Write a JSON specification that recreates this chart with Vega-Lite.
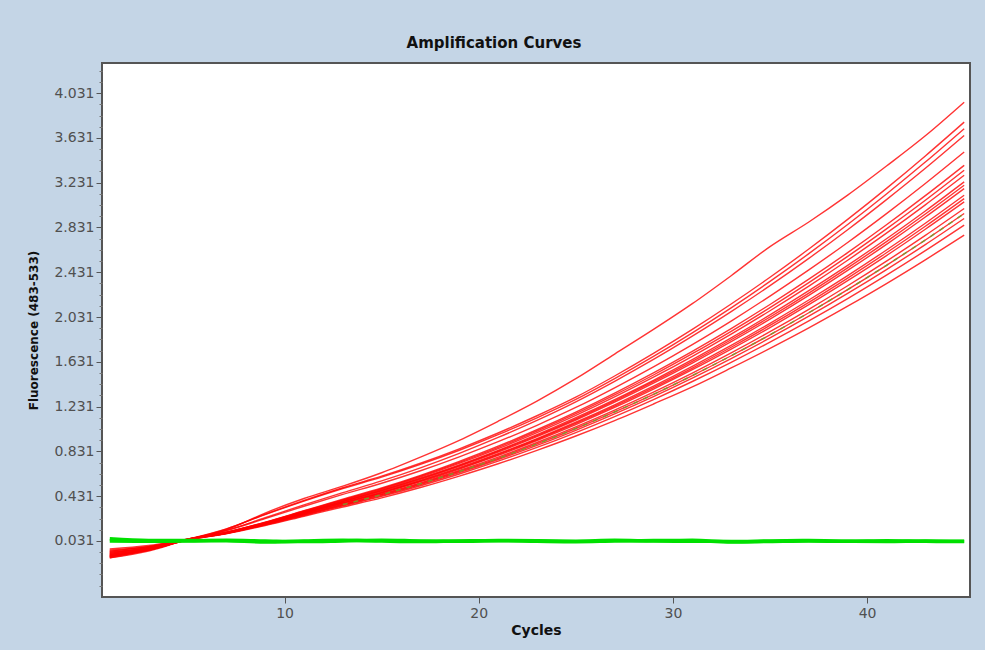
{
  "$schema": "https://vega.github.io/schema/vega-lite/v6.json",
  "width": 868,
  "height": 534,
  "autosize": "none",
  "padding": {"left": 102, "top": 63, "right": 15, "bottom": 53},
  "background": "#c4d5e6",
  "view": {"fill": "white", "stroke": "#555555", "strokeWidth": 2},
  "title": {"text": "Amplification Curves", "fontSize": 15, "fontWeight": "bold", "font": "DejaVu Sans", "color": "#111111", "offset": 12, "dx": -42},
  "datasets": {
    "red": [
      {"id":"R1","x":1,"y":-0.05},{"id":"R1","x":3,"y":-0.02},{"id":"R1","x":5,"y":0.045},{"id":"R1","x":7,"y":0.13},{"id":"R1","x":9,"y":0.28},{"id":"R1","x":11,"y":0.41},{"id":"R1","x":13,"y":0.52},{"id":"R1","x":15,"y":0.64},{"id":"R1","x":17,"y":0.78},{"id":"R1","x":19,"y":0.93},{"id":"R1","x":21,"y":1.10},{"id":"R1","x":23,"y":1.28},{"id":"R1","x":25,"y":1.48},{"id":"R1","x":27,"y":1.70},{"id":"R1","x":29,"y":1.92},{"id":"R1","x":31,"y":2.15},{"id":"R1","x":33,"y":2.40},{"id":"R1","x":35,"y":2.66},{"id":"R1","x":37,"y":2.88},{"id":"R1","x":39,"y":3.12},{"id":"R1","x":41,"y":3.38},{"id":"R1","x":43,"y":3.65},{"id":"R1","x":45,"y":3.95},
      {"id":"R2","x":1,"y":-0.08},{"id":"R2","x":3,"y":-0.03},{"id":"R2","x":5,"y":0.045},{"id":"R2","x":7,"y":0.138},{"id":"R2","x":9,"y":0.269},{"id":"R2","x":11,"y":0.392},{"id":"R2","x":13,"y":0.506},{"id":"R2","x":15,"y":0.609},{"id":"R2","x":17,"y":0.725},{"id":"R2","x":19,"y":0.854},{"id":"R2","x":21,"y":0.995},{"id":"R2","x":23,"y":1.149},{"id":"R2","x":25,"y":1.315},{"id":"R2","x":27,"y":1.504},{"id":"R2","x":29,"y":1.706},{"id":"R2","x":31,"y":1.920},{"id":"R2","x":33,"y":2.147},{"id":"R2","x":35,"y":2.386},{"id":"R2","x":37,"y":2.638},{"id":"R2","x":39,"y":2.903},{"id":"R2","x":41,"y":3.180},{"id":"R2","x":43,"y":3.470},{"id":"R2","x":45,"y":3.772},
      {"id":"R3","x":1,"y":-0.10},{"id":"R3","x":3,"y":-0.04},{"id":"R3","x":5,"y":0.042},{"id":"R3","x":7,"y":0.137},{"id":"R3","x":9,"y":0.266},{"id":"R3","x":11,"y":0.387},{"id":"R3","x":13,"y":0.499},{"id":"R3","x":15,"y":0.601},{"id":"R3","x":17,"y":0.715},{"id":"R3","x":19,"y":0.841},{"id":"R3","x":21,"y":0.980},{"id":"R3","x":23,"y":1.131},{"id":"R3","x":25,"y":1.295},{"id":"R3","x":27,"y":1.481},{"id":"R3","x":29,"y":1.679},{"id":"R3","x":31,"y":1.890},{"id":"R3","x":33,"y":2.113},{"id":"R3","x":35,"y":2.349},{"id":"R3","x":37,"y":2.597},{"id":"R3","x":39,"y":2.857},{"id":"R3","x":41,"y":3.130},{"id":"R3","x":43,"y":3.415},{"id":"R3","x":45,"y":3.713},
      {"id":"R4","x":1,"y":-0.06},{"id":"R4","x":3,"y":-0.02},{"id":"R4","x":5,"y":0.046},{"id":"R4","x":7,"y":0.125},{"id":"R4","x":9,"y":0.238},{"id":"R4","x":11,"y":0.353},{"id":"R4","x":13,"y":0.462},{"id":"R4","x":15,"y":0.567},{"id":"R4","x":17,"y":0.684},{"id":"R4","x":19,"y":0.813},{"id":"R4","x":21,"y":0.955},{"id":"R4","x":23,"y":1.108},{"id":"R4","x":25,"y":1.274},{"id":"R4","x":27,"y":1.457},{"id":"R4","x":29,"y":1.652},{"id":"R4","x":31,"y":1.860},{"id":"R4","x":33,"y":2.079},{"id":"R4","x":35,"y":2.311},{"id":"R4","x":37,"y":2.555},{"id":"R4","x":39,"y":2.811},{"id":"R4","x":41,"y":3.080},{"id":"R4","x":43,"y":3.360},{"id":"R4","x":45,"y":3.653},
      {"id":"R5","x":1,"y":-0.11},{"id":"R5","x":3,"y":-0.05},{"id":"R5","x":5,"y":0.041},{"id":"R5","x":7,"y":0.122},{"id":"R5","x":9,"y":0.230},{"id":"R5","x":11,"y":0.341},{"id":"R5","x":13,"y":0.446},{"id":"R5","x":15,"y":0.546},{"id":"R5","x":17,"y":0.658},{"id":"R5","x":19,"y":0.782},{"id":"R5","x":21,"y":0.917},{"id":"R5","x":23,"y":1.064},{"id":"R5","x":25,"y":1.223},{"id":"R5","x":27,"y":1.399},{"id":"R5","x":29,"y":1.586},{"id":"R5","x":31,"y":1.785},{"id":"R5","x":33,"y":1.995},{"id":"R5","x":35,"y":2.218},{"id":"R5","x":37,"y":2.452},{"id":"R5","x":39,"y":2.697},{"id":"R5","x":41,"y":2.955},{"id":"R5","x":43,"y":3.224},{"id":"R5","x":45,"y":3.505},
      {"id":"R6","x":1,"y":-0.09},{"id":"R6","x":3,"y":-0.04},{"id":"R6","x":5,"y":0.044},{"id":"R6","x":7,"y":0.109},{"id":"R6","x":9,"y":0.199},{"id":"R6","x":11,"y":0.301},{"id":"R6","x":13,"y":0.403},{"id":"R6","x":15,"y":0.504},{"id":"R6","x":17,"y":0.617},{"id":"R6","x":19,"y":0.742},{"id":"R6","x":21,"y":0.877},{"id":"R6","x":23,"y":1.024},{"id":"R6","x":25,"y":1.182},{"id":"R6","x":27,"y":1.352},{"id":"R6","x":29,"y":1.533},{"id":"R6","x":31,"y":1.725},{"id":"R6","x":33,"y":1.928},{"id":"R6","x":35,"y":2.143},{"id":"R6","x":37,"y":2.369},{"id":"R6","x":39,"y":2.606},{"id":"R6","x":41,"y":2.855},{"id":"R6","x":43,"y":3.115},{"id":"R6","x":45,"y":3.386},
      {"id":"R7","x":1,"y":-0.12},{"id":"R7","x":3,"y":-0.06},{"id":"R7","x":5,"y":0.04},{"id":"R7","x":7,"y":0.107},{"id":"R7","x":9,"y":0.195},{"id":"R7","x":11,"y":0.294},{"id":"R7","x":13,"y":0.393},{"id":"R7","x":15,"y":0.492},{"id":"R7","x":17,"y":0.602},{"id":"R7","x":19,"y":0.723},{"id":"R7","x":21,"y":0.855},{"id":"R7","x":23,"y":0.998},{"id":"R7","x":25,"y":1.152},{"id":"R7","x":27,"y":1.317},{"id":"R7","x":29,"y":1.493},{"id":"R7","x":31,"y":1.680},{"id":"R7","x":33,"y":1.878},{"id":"R7","x":35,"y":2.087},{"id":"R7","x":37,"y":2.307},{"id":"R7","x":39,"y":2.538},{"id":"R7","x":41,"y":2.780},{"id":"R7","x":43,"y":3.033},{"id":"R7","x":45,"y":3.297},
      {"id":"R8","x":1,"y":-0.07},{"id":"R8","x":3,"y":-0.03},{"id":"R8","x":5,"y":0.045},{"id":"R8","x":7,"y":0.106},{"id":"R8","x":9,"y":0.192},{"id":"R8","x":11,"y":0.289},{"id":"R8","x":13,"y":0.386},{"id":"R8","x":15,"y":0.484},{"id":"R8","x":17,"y":0.592},{"id":"R8","x":19,"y":0.710},{"id":"R8","x":21,"y":0.840},{"id":"R8","x":23,"y":0.980},{"id":"R8","x":25,"y":1.132},{"id":"R8","x":27,"y":1.294},{"id":"R8","x":29,"y":1.466},{"id":"R8","x":31,"y":1.650},{"id":"R8","x":33,"y":1.844},{"id":"R8","x":35,"y":2.050},{"id":"R8","x":37,"y":2.266},{"id":"R8","x":39,"y":2.492},{"id":"R8","x":41,"y":2.730},{"id":"R8","x":43,"y":2.978},{"id":"R8","x":45,"y":3.238},
      {"id":"R9","x":1,"y":-0.04},{"id":"R9","x":3,"y":-0.01},{"id":"R9","x":5,"y":0.047},{"id":"R9","x":7,"y":0.104},{"id":"R9","x":9,"y":0.189},{"id":"R9","x":11,"y":0.284},{"id":"R9","x":13,"y":0.380},{"id":"R9","x":15,"y":0.475},{"id":"R9","x":17,"y":0.581},{"id":"R9","x":19,"y":0.698},{"id":"R9","x":21,"y":0.825},{"id":"R9","x":23,"y":0.963},{"id":"R9","x":25,"y":1.111},{"id":"R9","x":27,"y":1.270},{"id":"R9","x":29,"y":1.440},{"id":"R9","x":31,"y":1.620},{"id":"R9","x":33,"y":1.811},{"id":"R9","x":35,"y":2.012},{"id":"R9","x":37,"y":2.224},{"id":"R9","x":39,"y":2.447},{"id":"R9","x":41,"y":2.680},{"id":"R9","x":43,"y":2.924},{"id":"R9","x":45,"y":3.178},
      {"id":"R10","x":1,"y":-0.10},{"id":"R10","x":3,"y":-0.05},{"id":"R10","x":5,"y":0.041},{"id":"R10","x":7,"y":0.103},{"id":"R10","x":9,"y":0.186},{"id":"R10","x":11,"y":0.280},{"id":"R10","x":13,"y":0.373},{"id":"R10","x":15,"y":0.467},{"id":"R10","x":17,"y":0.571},{"id":"R10","x":19,"y":0.685},{"id":"R10","x":21,"y":0.810},{"id":"R10","x":23,"y":0.945},{"id":"R10","x":25,"y":1.091},{"id":"R10","x":27,"y":1.247},{"id":"R10","x":29,"y":1.413},{"id":"R10","x":31,"y":1.590},{"id":"R10","x":33,"y":1.777},{"id":"R10","x":35,"y":1.975},{"id":"R10","x":37,"y":2.183},{"id":"R10","x":39,"y":2.401},{"id":"R10","x":41,"y":2.630},{"id":"R10","x":43,"y":2.869},{"id":"R10","x":45,"y":3.119},
      {"id":"R11","x":1,"y":-0.08},{"id":"R11","x":3,"y":-0.03},{"id":"R11","x":5,"y":0.044},{"id":"R11","x":7,"y":0.101},{"id":"R11","x":9,"y":0.183},{"id":"R11","x":11,"y":0.275},{"id":"R11","x":13,"y":0.367},{"id":"R11","x":15,"y":0.458},{"id":"R11","x":17,"y":0.560},{"id":"R11","x":19,"y":0.673},{"id":"R11","x":21,"y":0.795},{"id":"R11","x":23,"y":0.928},{"id":"R11","x":25,"y":1.070},{"id":"R11","x":27,"y":1.223},{"id":"R11","x":29,"y":1.387},{"id":"R11","x":31,"y":1.560},{"id":"R11","x":33,"y":1.744},{"id":"R11","x":35,"y":1.937},{"id":"R11","x":37,"y":2.141},{"id":"R11","x":39,"y":2.356},{"id":"R11","x":41,"y":2.580},{"id":"R11","x":43,"y":2.815},{"id":"R11","x":45,"y":3.059},
      {"id":"R12","x":1,"y":-0.12},{"id":"R12","x":3,"y":-0.05},{"id":"R12","x":5,"y":0.04},{"id":"R12","x":7,"y":0.100},{"id":"R12","x":9,"y":0.180},{"id":"R12","x":11,"y":0.270},{"id":"R12","x":13,"y":0.360},{"id":"R12","x":15,"y":0.450},{"id":"R12","x":17,"y":0.550},{"id":"R12","x":19,"y":0.660},{"id":"R12","x":21,"y":0.780},{"id":"R12","x":23,"y":0.910},{"id":"R12","x":25,"y":1.050},{"id":"R12","x":27,"y":1.200},{"id":"R12","x":29,"y":1.360},{"id":"R12","x":31,"y":1.530},{"id":"R12","x":33,"y":1.710},{"id":"R12","x":35,"y":1.900},{"id":"R12","x":37,"y":2.100},{"id":"R12","x":39,"y":2.310},{"id":"R12","x":41,"y":2.530},{"id":"R12","x":43,"y":2.760},{"id":"R12","x":45,"y":3.000},
      {"id":"R13","x":1,"y":-0.06},{"id":"R13","x":3,"y":-0.02},{"id":"R13","x":5,"y":0.046},{"id":"R13","x":7,"y":0.098},{"id":"R13","x":9,"y":0.176},{"id":"R13","x":11,"y":0.263},{"id":"R13","x":13,"y":0.350},{"id":"R13","x":15,"y":0.437},{"id":"R13","x":17,"y":0.534},{"id":"R13","x":19,"y":0.641},{"id":"R13","x":21,"y":0.758},{"id":"R13","x":23,"y":0.884},{"id":"R13","x":25,"y":1.019},{"id":"R13","x":27,"y":1.165},{"id":"R13","x":29,"y":1.320},{"id":"R13","x":31,"y":1.485},{"id":"R13","x":33,"y":1.660},{"id":"R13","x":35,"y":1.844},{"id":"R13","x":37,"y":2.038},{"id":"R13","x":39,"y":2.242},{"id":"R13","x":41,"y":2.455},{"id":"R13","x":43,"y":2.678},{"id":"R13","x":45,"y":2.911},
      {"id":"R14","x":1,"y":-0.09},{"id":"R14","x":3,"y":-0.04},{"id":"R14","x":5,"y":0.042},{"id":"R14","x":7,"y":0.097},{"id":"R14","x":9,"y":0.173},{"id":"R14","x":11,"y":0.258},{"id":"R14","x":13,"y":0.344},{"id":"R14","x":15,"y":0.429},{"id":"R14","x":17,"y":0.524},{"id":"R14","x":19,"y":0.629},{"id":"R14","x":21,"y":0.743},{"id":"R14","x":23,"y":0.866},{"id":"R14","x":25,"y":0.999},{"id":"R14","x":27,"y":1.142},{"id":"R14","x":29,"y":1.294},{"id":"R14","x":31,"y":1.455},{"id":"R14","x":33,"y":1.626},{"id":"R14","x":35,"y":1.807},{"id":"R14","x":37,"y":1.997},{"id":"R14","x":39,"y":2.196},{"id":"R14","x":41,"y":2.405},{"id":"R14","x":43,"y":2.624},{"id":"R14","x":45,"y":2.852},
      {"id":"R15","x":1,"y":-0.11},{"id":"R15","x":3,"y":-0.05},{"id":"R15","x":5,"y":0.04},{"id":"R15","x":7,"y":0.094},{"id":"R15","x":9,"y":0.168},{"id":"R15","x":11,"y":0.251},{"id":"R15","x":13,"y":0.334},{"id":"R15","x":15,"y":0.416},{"id":"R15","x":17,"y":0.508},{"id":"R15","x":19,"y":0.610},{"id":"R15","x":21,"y":0.720},{"id":"R15","x":23,"y":0.840},{"id":"R15","x":25,"y":0.968},{"id":"R15","x":27,"y":1.106},{"id":"R15","x":29,"y":1.254},{"id":"R15","x":31,"y":1.407},{"id":"R15","x":33,"y":1.576},{"id":"R15","x":35,"y":1.751},{"id":"R15","x":37,"y":1.934},{"id":"R15","x":39,"y":2.128},{"id":"R15","x":41,"y":2.330},{"id":"R15","x":43,"y":2.542},{"id":"R15","x":45,"y":2.762},
      {"id":"R16","x":1,"y":-0.10},{"id":"R16","x":3,"y":-0.05},{"id":"R16","x":5,"y":0.043},{"id":"R16","x":7,"y":0.108},{"id":"R16","x":9,"y":0.197},{"id":"R16","x":11,"y":0.298},{"id":"R16","x":13,"y":0.398},{"id":"R16","x":15,"y":0.498},{"id":"R16","x":17,"y":0.610},{"id":"R16","x":19,"y":0.733},{"id":"R16","x":21,"y":0.866},{"id":"R16","x":23,"y":1.011},{"id":"R16","x":25,"y":1.167},{"id":"R16","x":27,"y":1.335},{"id":"R16","x":29,"y":1.513},{"id":"R16","x":31,"y":1.703},{"id":"R16","x":33,"y":1.903},{"id":"R16","x":35,"y":2.115},{"id":"R16","x":37,"y":2.338},{"id":"R16","x":39,"y":2.572},{"id":"R16","x":41,"y":2.818},{"id":"R16","x":43,"y":3.074},{"id":"R16","x":45,"y":3.342},
      {"id":"R17","x":1,"y":-0.11},{"id":"R17","x":3,"y":-0.04},{"id":"R17","x":5,"y":0.044},{"id":"R17","x":7,"y":0.105},{"id":"R17","x":9,"y":0.191},{"id":"R17","x":11,"y":0.287},{"id":"R17","x":13,"y":0.383},{"id":"R17","x":15,"y":0.480},{"id":"R17","x":17,"y":0.587},{"id":"R17","x":19,"y":0.704},{"id":"R17","x":21,"y":0.833},{"id":"R17","x":23,"y":0.972},{"id":"R17","x":25,"y":1.122},{"id":"R17","x":27,"y":1.282},{"id":"R17","x":29,"y":1.453},{"id":"R17","x":31,"y":1.635},{"id":"R17","x":33,"y":1.828},{"id":"R17","x":35,"y":2.031},{"id":"R17","x":37,"y":2.245},{"id":"R17","x":39,"y":2.470},{"id":"R17","x":41,"y":2.705},{"id":"R17","x":43,"y":2.951},{"id":"R17","x":45,"y":3.208},
      {"id":"R18","x":1,"y":-0.07},{"id":"R18","x":3,"y":-0.03},{"id":"R18","x":5,"y":0.046},{"id":"R18","x":7,"y":0.102},{"id":"R18","x":9,"y":0.185},{"id":"R18","x":11,"y":0.278},{"id":"R18","x":13,"y":0.370},{"id":"R18","x":15,"y":0.463},{"id":"R18","x":17,"y":0.566},{"id":"R18","x":19,"y":0.679},{"id":"R18","x":21,"y":0.803},{"id":"R18","x":23,"y":0.937},{"id":"R18","x":25,"y":1.081},{"id":"R18","x":27,"y":1.235},{"id":"R18","x":29,"y":1.400},{"id":"R18","x":31,"y":1.575},{"id":"R18","x":33,"y":1.761},{"id":"R18","x":35,"y":1.956},{"id":"R18","x":37,"y":2.162},{"id":"R18","x":39,"y":2.379},{"id":"R18","x":41,"y":2.605},{"id":"R18","x":43,"y":2.842},{"id":"R18","x":45,"y":3.089},
      {"id":"R19","x":1,"y":-0.09},{"id":"R19","x":3,"y":-0.035},{"id":"R19","x":5,"y":0.041},{"id":"R19","x":7,"y":0.099},{"id":"R19","x":9,"y":0.178},{"id":"R19","x":11,"y":0.267},{"id":"R19","x":13,"y":0.355},{"id":"R19","x":15,"y":0.444},{"id":"R19","x":17,"y":0.542},{"id":"R19","x":19,"y":0.651},{"id":"R19","x":21,"y":0.769},{"id":"R19","x":23,"y":0.897},{"id":"R19","x":25,"y":1.035},{"id":"R19","x":27,"y":1.183},{"id":"R19","x":29,"y":1.340},{"id":"R19","x":31,"y":1.508},{"id":"R19","x":33,"y":1.685},{"id":"R19","x":35,"y":1.872},{"id":"R19","x":37,"y":2.069},{"id":"R19","x":39,"y":2.276},{"id":"R19","x":41,"y":2.493},{"id":"R19","x":43,"y":2.719},{"id":"R19","x":45,"y":2.956}
    ],
    "green": [
      {"id":"G1","x":1,"y":0.05},{"id":"G1","x":3,"y":0.035},{"id":"G1","x":5,"y":0.034},{"id":"G1","x":7,"y":0.032},{"id":"G1","x":9,"y":0.022},{"id":"G1","x":11,"y":0.030},{"id":"G1","x":13,"y":0.036},{"id":"G1","x":15,"y":0.030},{"id":"G1","x":17,"y":0.026},{"id":"G1","x":19,"y":0.031},{"id":"G1","x":21,"y":0.033},{"id":"G1","x":23,"y":0.028},{"id":"G1","x":25,"y":0.024},{"id":"G1","x":27,"y":0.030},{"id":"G1","x":29,"y":0.034},{"id":"G1","x":31,"y":0.036},{"id":"G1","x":33,"y":0.022},{"id":"G1","x":35,"y":0.026},{"id":"G1","x":37,"y":0.030},{"id":"G1","x":39,"y":0.028},{"id":"G1","x":41,"y":0.032},{"id":"G1","x":43,"y":0.027},{"id":"G1","x":45,"y":0.025},
      {"id":"G2","x":1,"y":0.03},{"id":"G2","x":3,"y":0.028},{"id":"G2","x":5,"y":0.030},{"id":"G2","x":7,"y":0.036},{"id":"G2","x":9,"y":0.030},{"id":"G2","x":11,"y":0.025},{"id":"G2","x":13,"y":0.031},{"id":"G2","x":15,"y":0.038},{"id":"G2","x":17,"y":0.030},{"id":"G2","x":19,"y":0.027},{"id":"G2","x":21,"y":0.035},{"id":"G2","x":23,"y":0.032},{"id":"G2","x":25,"y":0.029},{"id":"G2","x":27,"y":0.036},{"id":"G2","x":29,"y":0.030},{"id":"G2","x":31,"y":0.028},{"id":"G2","x":33,"y":0.026},{"id":"G2","x":35,"y":0.031},{"id":"G2","x":37,"y":0.034},{"id":"G2","x":39,"y":0.029},{"id":"G2","x":41,"y":0.026},{"id":"G2","x":43,"y":0.030},{"id":"G2","x":45,"y":0.028}
    ],
    "olive": [
      {"id":"O1","x":13,"y":0.355},{"id":"O1","x":15,"y":0.444},{"id":"O1","x":17,"y":0.542},{"id":"O1","x":19,"y":0.651},{"id":"O1","x":21,"y":0.769},{"id":"O1","x":23,"y":0.897},{"id":"O1","x":25,"y":1.035},{"id":"O1","x":27,"y":1.183},{"id":"O1","x":29,"y":1.340},{"id":"O1","x":31,"y":1.508},{"id":"O1","x":33,"y":1.685},{"id":"O1","x":35,"y":1.872},{"id":"O1","x":37,"y":2.069},{"id":"O1","x":39,"y":2.276},{"id":"O1","x":41,"y":2.493},{"id":"O1","x":43,"y":2.719},{"id":"O1","x":45,"y":2.955}
    ]
  },
  "layer": [
    {
      "data": {"name": "red"},
      "mark": {"type": "line", "color": "#ff0000", "strokeWidth": 1.4, "opacity": 0.8, "interpolate": "monotone"},
      "encoding": {
        "x": {"field": "x", "type": "quantitative", "scale": {"domain": [0.6, 45.3], "nice": false, "zero": false},
              "axis": {"values": [10, 20, 30, 40], "title": "Cycles", "titleFont": "DejaVu Sans", "titleFontSize": 14, "titleFontWeight": "bold", "titleColor": "#111111", "titlePadding": 3, "labelFont": "DejaVu Sans", "labelFontSize": 14, "labelColor": "#505050", "tickColor": "#555555", "tickSize": 6, "domain": false, "grid": false, "labelPadding": 3}},
        "y": {"field": "y", "type": "quantitative", "scale": {"domain": [-0.47, 4.3], "nice": false, "zero": false},
              "axis": {"orient": "left", "values": [0.031, 0.431, 0.831, 1.231, 1.631, 2.031, 2.431, 2.831, 3.231, 3.631, 4.031], "format": ".3f", "title": "Fluorescence (483-533)", "titleFont": "DejaVu Sans", "titleFontSize": 12, "titleFontWeight": "bold", "titleColor": "#111111", "titlePadding": 13, "labelFont": "DejaVu Sans", "labelFontSize": 14, "labelColor": "#505050", "tickColor": "#555555", "tickSize": 6, "domain": false, "grid": false, "labelPadding": 2}},
        "detail": {"field": "id"}
      }
    },
    {
      "data": {"name": "green"},
      "mark": {"type": "line", "color": "#00e000", "strokeWidth": 3.5, "interpolate": "monotone"},
      "encoding": {
        "x": {"field": "x", "type": "quantitative", "scale": {"domain": [0.6, 45.3], "nice": false, "zero": false}},
        "y": {"field": "y", "type": "quantitative", "scale": {"domain": [-0.47, 4.3], "nice": false, "zero": false},
              "axis": {"orient": "left", "values": [-0.369, -0.269, -0.169, -0.069, 0.131, 0.231, 0.331, 0.531, 0.631, 0.731, 0.931, 1.031, 1.131, 1.331, 1.431, 1.531, 1.731, 1.831, 1.931, 2.131, 2.231, 2.331, 2.531, 2.631, 2.731, 2.931, 3.031, 3.131, 3.331, 3.431, 3.531, 3.731, 3.831, 3.931, 4.131, 4.231], "labels": false, "title": null, "tickColor": "#777777", "tickSize": 3, "domain": false, "grid": false}},
        "detail": {"field": "id"}
      }
    },
    {
      "data": {"name": "olive"},
      "mark": {"type": "line", "color": "#7a9a2a", "strokeWidth": 1.5, "strokeDash": [5, 6], "opacity": 0.9, "interpolate": "monotone"},
      "encoding": {
        "x": {"field": "x", "type": "quantitative", "scale": {"domain": [0.6, 45.3], "nice": false, "zero": false}},
        "y": {"field": "y", "type": "quantitative", "scale": {"domain": [-0.47, 4.3], "nice": false, "zero": false}, "axis": null},
        "detail": {"field": "id"}
      }
    }
  ],
  "resolve": {"axis": {"y": "independent"}}
}
